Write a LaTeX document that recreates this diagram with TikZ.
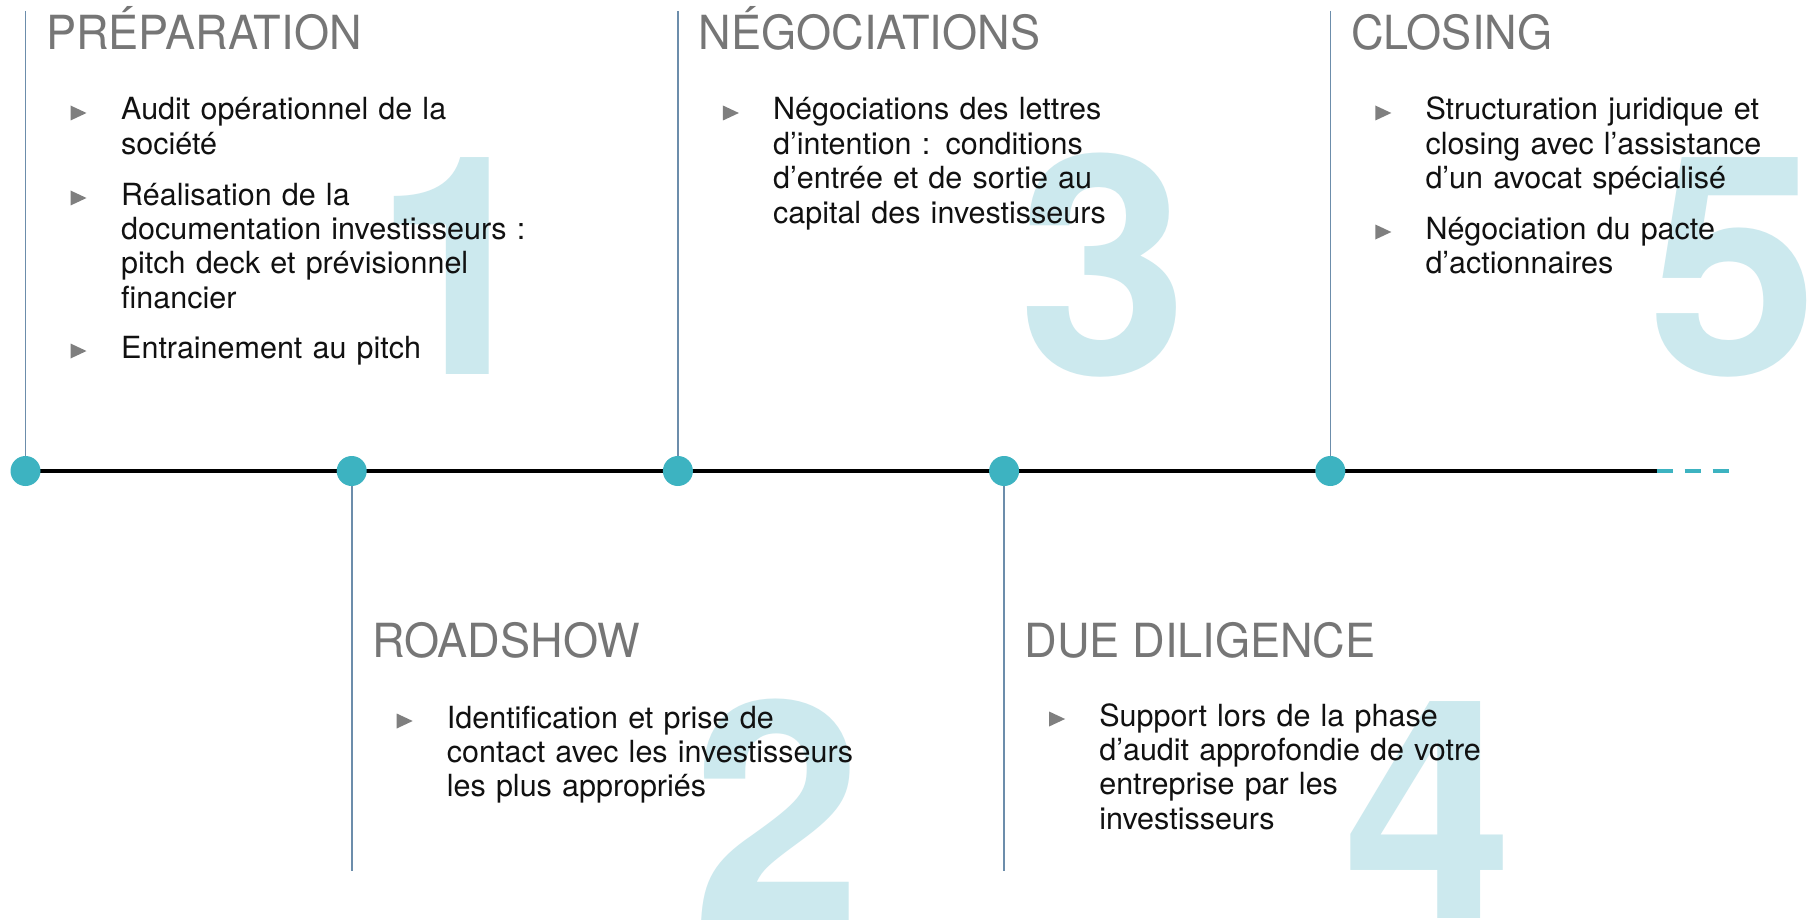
\documentclass[tikz,border=0pt]{standalone}
\usepackage{fontspec}
\setmainfont{TeX Gyre Heros}
\newfontfamily\headfont[FakeStretch=0.96]{TeX Gyre Heros}
\newfontfamily\numfont{texgyreheros-bold}[Extension=.otf]
\usetikzlibrary{backgrounds}
\definecolor{teal1}{HTML}{3DB3C1}
\definecolor{numcol}{HTML}{CCE9EE}
\definecolor{headcol}{HTML}{767676}
\definecolor{vcol}{HTML}{6C8DAB}
\definecolor{bulcol}{HTML}{7F7F7F}
\definecolor{txtcol}{HTML}{111111}
\newcommand\bul[2]{\fill[bulletshape,shift={(#1,#2)}] (0,-14.5) -- (0,0.5) -- (16,-7) -- cycle;}
\begin{document}
\begin{tikzpicture}[x=1pt,y=-1pt,
  dot/.style={circle,fill=teal1,minimum size=30pt,inner sep=0pt,draw=none},
  vline/.style={draw=vcol,line width=1.6pt},
  timeline/.style={draw=black,line width=4pt},
  dashline/.style={draw=teal1,line width=4pt,dash pattern=on 16pt off 12pt},
  heading/.style={anchor=base west,inner sep=0pt,text=headcol,font=\headfont\fontsize{47}{50}\selectfont},
  body/.style={anchor=base west,inner sep=0pt,text=txtcol,align=left,text width=470pt,font=\fontsize{30.5}{34.4}\selectfont},
  bignum/.style={anchor=base,inner sep=0pt,text=numcol,font=\numfont\fontsize{306}{306}\selectfont},
  bulletshape/.style={fill=bulcol}
]
\useasboundingbox (0,0) rectangle (1809,920);

% big numbers
\node[bignum] (n1) at (459,374) {1};
\node[bignum] (n3) at (1104,374) {3};
\node[bignum] (n5) at (1734,374) {5};
\node[bignum] (n2) at (778,920) {2};
\node[bignum] (n4) at (1429,918) {4};

% dots
\node[dot] (d1) at (25.5,471) {};
\node[dot] (d2) at (351.7,471) {};
\node[dot] (d3) at (677.9,471) {};
\node[dot] (d4) at (1004.1,471) {};
\node[dot] (d5) at (1330.3,471) {};
\coordinate (tend) at (1656.5,471);
\coordinate (dend) at (1730,471);
\coordinate (t1) at (25.5,11);
\coordinate (t3) at (677.9,11);
\coordinate (t5) at (1330.3,11);
\coordinate (b2) at (351.7,871);
\coordinate (b4) at (1004.1,871);

\begin{pgfonlayer}{background}
\fill[white] (0,0) rectangle (1809,920);
\draw[timeline] (d1.center) -- (tend);
\draw[dashline] (tend) -- (dend);
\draw[vline] (t1) -- (d1.center);
\draw[vline] (t3) -- (d3.center);
\draw[vline] (t5) -- (d5.center);
\draw[vline] (d2.center) -- (b2);
\draw[vline] (d4.center) -- (b4);
\end{pgfonlayer}

% headings
\node[heading] (h1) at (46,50) {PRÉPARATION};
\node[heading] (h3) at (698.4,50) {NÉGOCIATIONS};
\node[heading] (h5) at (1350.8,50) {CLOSING};
\node[heading] (h2) at (372.2,657) {ROADSHOW};
\node[heading] (h4) at (1024.6,657) {DUE DILIGENCE};

% panel 1
\bul{70.5}{120}
\node[body] (p1a) at (121,120) {Audit opérationnel de la\\société};
\bul{70.5}{205}
\node[body] (p1b) at (121,205) {Réalisation de la\\documentation investisseurs :\\pitch deck et prévisionnel\\financier};
\bul{70.5}{358}
\node[body] (p1c) at (121,358) {Entrainement au pitch};

% panel 3
\bul{722.9}{120}
\node[body] (p3a) at (772.9,120) {Négociations des lettres\\d’intention : conditions\\d’entrée et de sortie au\\capital des investisseurs};

% panel 5
\bul{1375.3}{120}
\node[body,text width=380pt] (p5a) at (1425.3,120) {Structuration juridique et\\closing avec l’assistance\\d’un avocat spécialisé};
\bul{1375.3}{239}
\node[body,text width=380pt] (p5b) at (1425.3,239) {Négociation du pacte\\d’actionnaires};

% panel 2
\bul{396.7}{728}
\node[body] (p2a) at (446.7,728) {Identification et prise de\\contact avec les investisseurs\\les plus appropriés};

% panel 4
\bul{1049.1}{726}
\node[body] (p4a) at (1099.1,726) {Support lors de la phase\\d’audit approfondie de votre\\entreprise par les\\investisseurs};
\end{tikzpicture}
\end{document}
